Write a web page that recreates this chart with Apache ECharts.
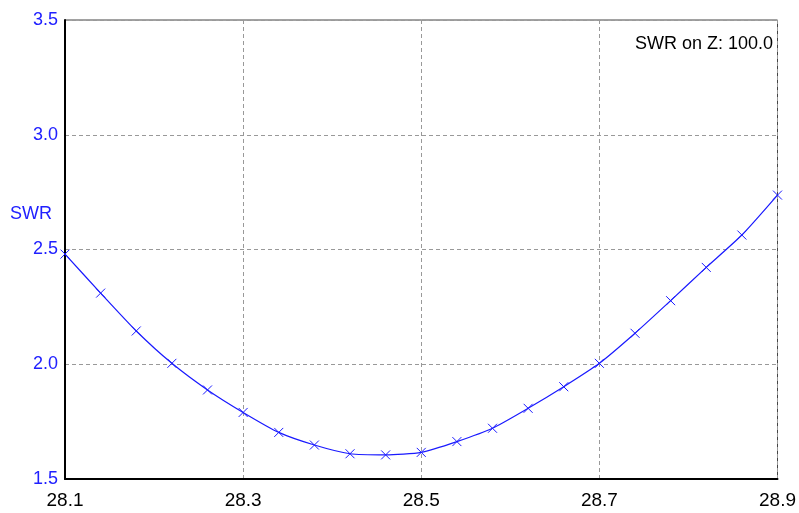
<!DOCTYPE html>
<html><head><meta charset="utf-8">
<script src="https://cdn.jsdelivr.net/npm/echarts@6/dist/echarts.min.js"></script>
<style>html,body{margin:0;padding:0;background:#fff}#c{width:799px;height:513px}</style>
</head><body><div id="c"></div>
<script>
const freqs = [28.10,28.14,28.18,28.22,28.26,28.30,28.34,28.38,28.42,28.46,28.50,28.54,28.58,28.62,28.66,28.70,28.74,28.78,28.82,28.86,28.90];
const swr = [2.48,2.31,2.145,2.004,1.888,1.79,1.703,1.648,1.61,1.605,1.616,1.663,1.721,1.808,1.902,2.004,2.135,2.277,2.422,2.563,2.737];
const xTicks = [28.1,28.3,28.5,28.7,28.9];
const yTicks = [1.5,2.0,2.5,3.0,3.5];
const yName = 'SWR';
const note = 'SWR on Z: 100.0';

const chart = echarts.init(document.getElementById('c'));
const font = 'Liberation Sans, Arial, sans-serif';
chart.setOption({
  animation:false,
  grid:{left:65,top:20,right:20,bottom:34,show:true,borderColor:'#444',borderWidth:1},
  xAxis:{type:'value',min:xTicks[0],max:xTicks[xTicks.length-1],interval:0.2,
    axisLine:{show:true,onZero:false,lineStyle:{color:'#000',width:2}},
    axisTick:{show:false},
    axisLabel:{color:'#000',fontSize:19,fontFamily:font,margin:12,formatter:v=>v.toFixed(1)},
    splitLine:{show:true,lineStyle:{color:'#999',type:[4,3],width:1}}},
  yAxis:{type:'value',min:yTicks[0],max:yTicks[yTicks.length-1],interval:0.5,
    axisLine:{show:true,lineStyle:{color:'#000',width:2}},
    axisTick:{show:false},
    axisLabel:{color:'#2020ff',fontSize:18,fontFamily:font,margin:7,formatter:v=>v.toFixed(1)},
    splitLine:{show:true,lineStyle:{color:'#999',type:[4,3],width:1}}},
  graphic:[
    {type:'text',left:10,top:205,style:{text:yName,fill:'#2020ff',font:'18px '+font}},
    {type:'text',right:26,top:35,style:{text:note,fill:'#000',font:'18px '+font}}
  ],
  series:[{type:'line',data:freqs.map((f,i)=>[f,swr[i]]),smooth:0.2,
    lineStyle:{color:'#1a1aff',width:1.2},
    symbol:'path://M0,0L10,10M10,0L0,10',symbolSize:9,
    itemStyle:{color:'rgba(0,0,0,0)',borderColor:'#1a1aff',borderWidth:1}}]
});
</script></body></html>
